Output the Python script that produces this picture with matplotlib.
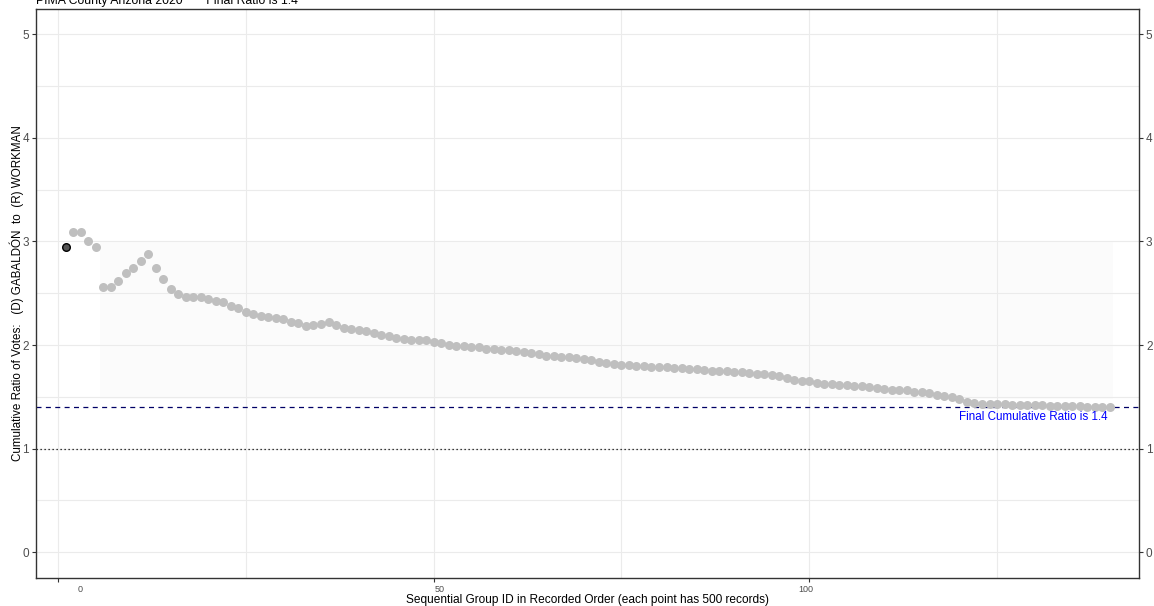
import matplotlib.pyplot as plt
import matplotlib.transforms as mtransforms
import numpy as np

plt.rcParams['font.family'] = ['Liberation Sans', 'DejaVu Sans']

# cumulative D/R ratio after each group of 500 records
ratio = [
    2.944, 3.089, 3.089, 3.005, 2.944, 2.563, 2.563, 2.618, 2.693, 2.741,
    2.815, 2.879, 2.747, 2.635, 2.544, 2.490, 2.464, 2.467, 2.464, 2.442,
    2.428, 2.418, 2.380, 2.357, 2.319, 2.297, 2.283, 2.271, 2.258, 2.248,
    2.222, 2.210, 2.187, 2.190, 2.200, 2.222, 2.193, 2.167, 2.157, 2.145,
    2.132, 2.119, 2.100, 2.084, 2.071, 2.055, 2.048, 2.048, 2.045, 2.032,
    2.016, 2.000, 1.993, 1.990, 1.981, 1.981, 1.961, 1.958, 1.955, 1.949,
    1.939, 1.929, 1.923, 1.913, 1.897, 1.891, 1.887, 1.881, 1.877, 1.865,
    1.852, 1.839, 1.823, 1.816, 1.807, 1.807, 1.800, 1.797, 1.790, 1.790,
    1.784, 1.781, 1.778, 1.768, 1.765, 1.756, 1.749, 1.746, 1.746, 1.739,
    1.736, 1.729, 1.720, 1.717, 1.707, 1.698, 1.678, 1.665, 1.652, 1.649,
    1.636, 1.626, 1.623, 1.616, 1.614, 1.607, 1.601, 1.597, 1.585, 1.578,
    1.568, 1.562, 1.563, 1.549, 1.543, 1.533, 1.520, 1.507, 1.497, 1.478,
    1.452, 1.441, 1.435, 1.432, 1.430, 1.428, 1.425, 1.423, 1.421, 1.419,
    1.417, 1.415, 1.413, 1.412, 1.410, 1.408, 1.406, 1.404, 1.402, 1.398,
]
group_id = np.arange(1, len(ratio) + 1)
final_ratio = ratio[-1]

title = "PIMA County Arizona 2020       Final Ratio is {:.1f}".format(final_ratio)
ylabel = "Cumulative Ratio of Votes:   (D) GABALDÓN  to  (R) WORKMAN"
xlabel = "Sequential Group ID in Recorded Order (each point has 500 records)"

fig = plt.figure(figsize=(11.54, 6.06), dpi=100)
ax = fig.add_axes([36 / 1154, 1 - 578 / 606, 1103 / 1154, 569 / 606])

ax.set_xlim(-2.94, 143.9)
ax.set_ylim(-0.248, 5.243)

# grid
ax.set_xticks([0, 50, 100])
ax.set_xticks([25, 75, 125], minor=True)
ax.set_yticks([0, 1, 2, 3, 4, 5])
ax.set_yticks([0.5, 1.5, 2.5, 3.5, 4.5], minor=True)
ax.grid(True, which='both', color='#ebebeb', lw=0.8, zorder=0)
ax.set_axisbelow(True)

# faint band behind the bulk of the series
ax.fill_between([5.6, 140.5], 1.48, 3.0, color='#fbfbfb', lw=0, zorder=0.5)

ax.axhline(1, color='black', ls=(0, (1, 2.2)), lw=0.9, zorder=2)
ax.axhline(final_ratio, color='#000066', ls=(0, (4, 3.5)), lw=0.9, zorder=2)

ax.scatter(group_id[1:], ratio[1:], s=42, color='#bfbfbf', lw=0, zorder=3)
ax.scatter(group_id[:1], ratio[:1], s=30, color='#555555', edgecolor='black',
           lw=1.0, zorder=4)

ax.text(group_id[-1] - 0.3, final_ratio - 0.035,
        "Final Cumulative Ratio is {:.1f}".format(final_ratio),
        color='#0000ff', fontsize=8.4, ha='right', va='top', zorder=5)

for s in ax.spines.values():
    s.set_color('#333333')
    s.set_linewidth(1.0)

ax.tick_params(axis='y', which='major', labelsize=8.5, labelcolor='#4d4d4d',
               color='#333333', length=3, width=0.8, left=True, right=True,
               labelleft=True, labelright=True, pad=2)
ax.tick_params(axis='x', which='major', labelsize=6.5, labelcolor='#4d4d4d',
               color='#333333', length=3, width=0.8, pad=2)
ax.tick_params(which='minor', length=0)
ax.set_xticklabels(['0', '50', '100'])
for lab, dx in zip(ax.get_xticklabels(), [22, 6, -3]):
    lab.set_transform(lab.get_transform() +
                      mtransforms.ScaledTranslation(dx / 100, 0, fig.dpi_scale_trans))

ax.set_xlabel(xlabel, fontsize=8.6, va='baseline')
ax.xaxis.set_label_coords(0.5, -(603 - 578) / 569)
ax.set_ylabel(ylabel, fontsize=8.4)
ax.yaxis.set_label_coords(-(36 - 24) / 1103, 0.5)

fig.text(36 / 1154, 1 - 4 / 606, title, fontsize=8.8, ha='left', va='baseline')

fig.savefig('out.png', dpi=100)
